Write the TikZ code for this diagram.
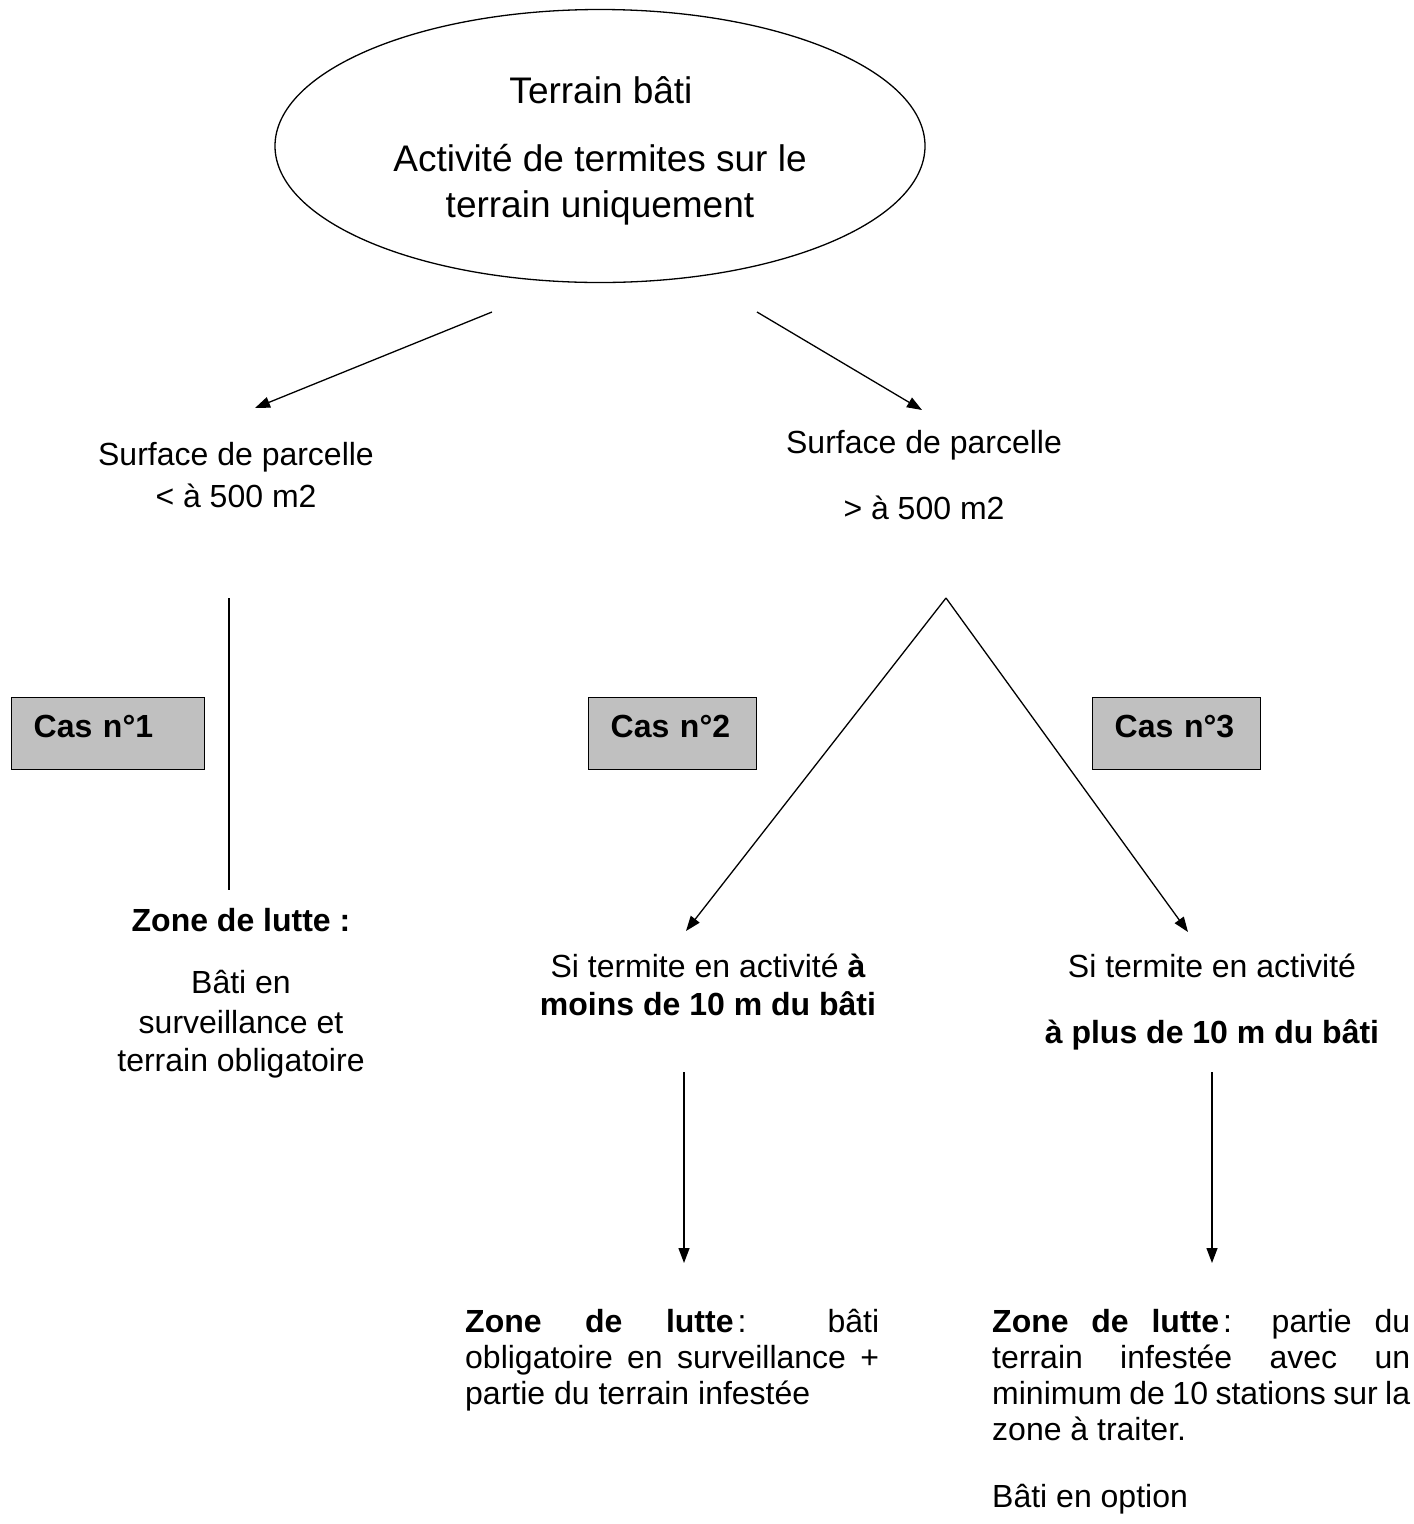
\documentclass[tikz,border=0pt]{standalone}
\usepackage{fontspec}
\setmainfont{Liberation Sans}
\usetikzlibrary{shapes.geometric,arrows.meta}
\definecolor{boxgray}{RGB}{192,192,192}
\begin{document}
\begin{tikzpicture}[x=1pt,y=-1pt,
  txt/.style={font=\fontsize{32}{36}\selectfont, inner sep=0pt, anchor=base},
  bigtxt/.style={font=\fontsize{37}{44}\selectfont, inner sep=0pt, anchor=base},
  casbox/.style={draw=black, line width=1.3pt, fill=boxgray, anchor=north west,
    font=\fontsize{32}{36}\selectfont\bfseries, align=left, inner xsep=22pt, inner ysep=0pt,
    minimum height=72pt, text height=23pt, text depth=15pt},
  conn/.style={line width=1.3pt},
  arr/.style={conn, -{Triangle[length=15pt,width=11pt]}},
  block/.style={font=\fontsize{32}{36}\selectfont,
    inner sep=0pt, anchor=north west, align=justify}
]
\useasboundingbox (0,0) rectangle (1414,1524);

% top ellipse
\node[ellipse, draw=black, line width=1.3pt, minimum width=650pt, minimum height=273pt, inner sep=0pt] (ell) at (600,146) {};
\node[bigtxt] (t1) at (601,103) {Terrain bâti};
\node[bigtxt] (t2) at (600,171) {Activité de termites sur le};
\node[bigtxt] (t3) at (600,217) {terrain uniquement};

% first level
\node[txt] (s1a) at (236,465) {Surface de parcelle};
\node[txt] (s1b) at (236,507) {< à 500 m2};
\node[txt] (s2a) at (924,453) {Surface de parcelle};
\node[txt] (s2b) at (924,519) {> à 500 m2};

\coordinate (a1s) at (492,312);
\coordinate (a1e) at (255,408);
\coordinate (a2s) at (757,312);
\coordinate (a2e) at (922,410);
\draw[arr] (a1s) -- (a1e);
\draw[arr] (a2s) -- (a2e);

% cases
\node[casbox, text width=149pt] (cas1) at (11,697) {Cas n°1};
\node[casbox, text width=124pt] (cas2) at (588,697) {Cas n°2};
\node[casbox, text width=124pt] (cas3) at (1092,697) {Cas n°3};

\coordinate (v1s) at (229,598);
\coordinate (v1e) at (229,890);
\draw[conn] (v1s) -- (v1e);

\coordinate (apex) at (946,598);
\coordinate (a3e) at (686,931);
\coordinate (a4e) at (1188,932);
\draw[arr] (apex) -- (a3e);
\draw[arr] (apex) -- (a4e);

% case 1 text
\node[txt, font=\fontsize{32}{36}\selectfont\bfseries] (z1) at (241,931) {Zone de lutte :};
\node[txt] (b1) at (241,993) {Bâti en};
\node[txt] (b2) at (241,1033) {surveillance et};
\node[txt] (b3) at (241,1071) {terrain obligatoire};

% case 2/3 conditions
\node[txt] (c2a) at (708,977) {Si termite en activité \textbf{à}};
\node[txt] (c2b) at (708,1015) {\textbf{moins de 10 m du bâti}};
\node[txt] (c3a) at (1212,977) {Si termite en activité};
\node[txt] (c3b) at (1212,1043) {\textbf{à plus de 10 m du bâti}};

\coordinate (d1s) at (684,1072);
\coordinate (d1e) at (684,1263);
\coordinate (d2s) at (1212,1072);
\coordinate (d2e) at (1212,1263);
\draw[arr] (d1s) -- (d1e);
\draw[arr] (d2s) -- (d2e);

% result blocks
\node[block, text width=414pt] (r2) at (465,1307) {\hyphenpenalty10000 \strut\textbf{Zone de lutte}\kern4pt: bâti\linebreak obligatoire en surveillance +\linebreak partie du terrain infestée};
\node[block, text width=418pt] (r3) at (992,1307) {\hyphenpenalty10000 \strut\textbf{Zone de lutte}\kern4pt: partie du\linebreak terrain infestée avec un\linebreak minimum de 10 stations sur la\linebreak zone à traiter.};
\node[txt, anchor=base west] (r3b) at (992,1507) {Bâti en option};
\end{tikzpicture}
\end{document}
